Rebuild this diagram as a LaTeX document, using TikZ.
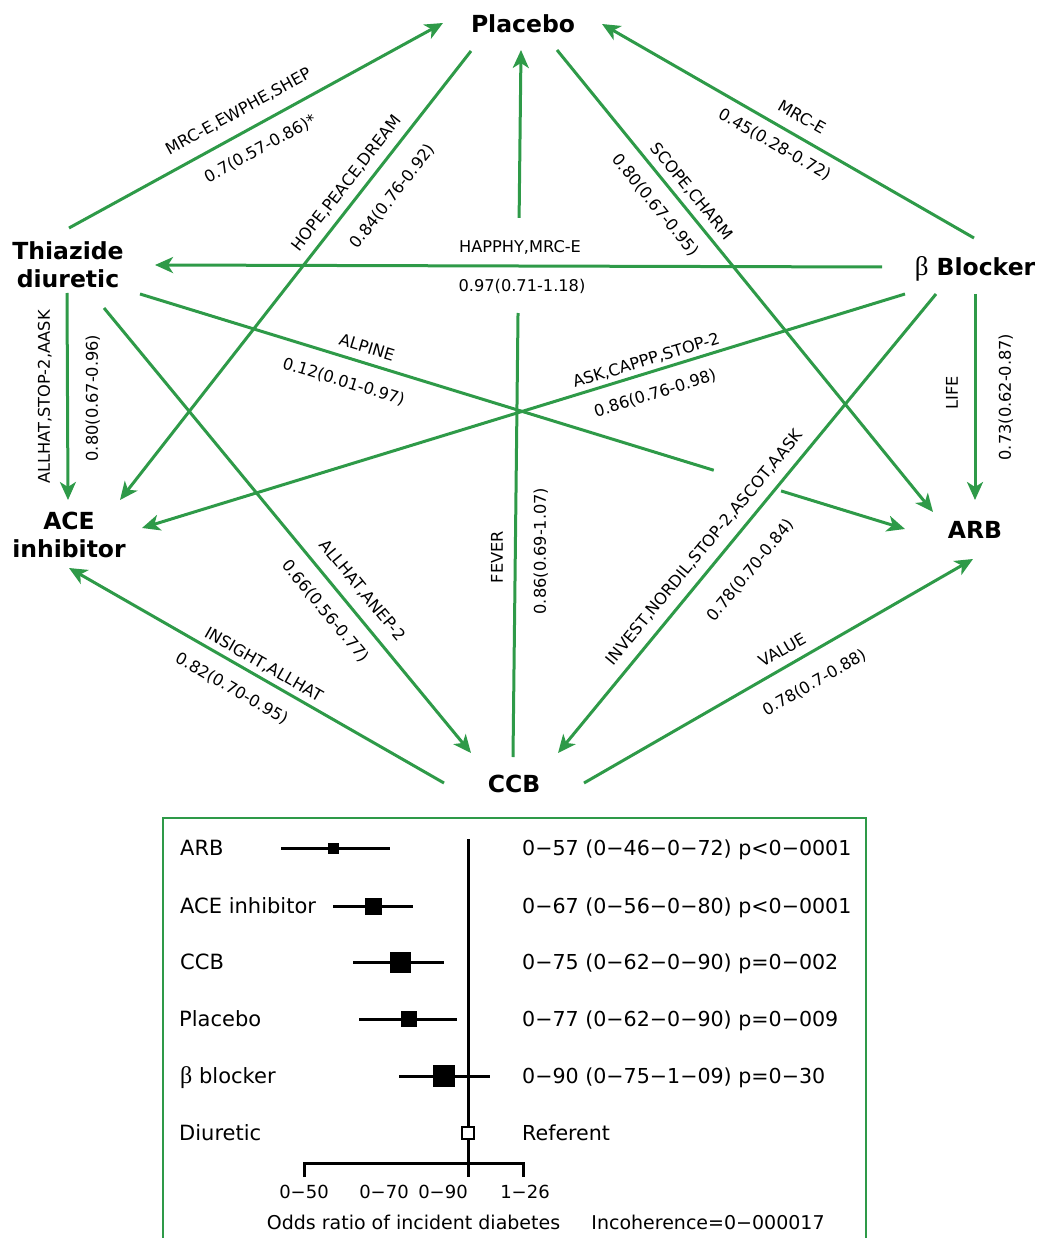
\documentclass[tikz,border=0pt]{standalone}
\usepackage{fontspec}
\setmainfont{DejaVu Sans}
\newfontfamily\grk{Liberation Serif}
\usetikzlibrary{arrows.meta,calc}
\definecolor{netgreen}{RGB}{46,154,72}

\begin{document}
\begin{tikzpicture}[x=1pt,y=-1pt,
  trt/.style={font=\fontsize{23.5}{28}\selectfont\bfseries, inner sep=0pt, align=center},
  trt1/.style={trt, text height=17pt, text depth=0pt},
  lab/.style={font=\fontsize{16.2}{19}\selectfont, inner sep=0pt, text height=11.8pt, text depth=0pt},
  seg/.style={draw=netgreen, line width=3pt},
  link/.style={seg, -{Stealth[length=18pt,width=16pt,inset=5pt]}},
  fp/.style={draw=black, line width=3pt},
  row/.style={font=\fontsize{21}{25}\selectfont, inner sep=0pt, anchor=west, text height=15.3pt, text depth=0pt},
  val/.style={row, font=\fontsize{20.6}{25}\selectfont},
  ax/.style={font=\fontsize{19}{23}\selectfont, inner sep=0pt, text height=13.9pt, text depth=0pt},
  tick/.style={ax, font=\fontsize{18}{22}\selectfont, text height=13.1pt},
  sq/.style={fill=black, inner sep=0pt, draw=none}
]
\useasboundingbox (0,0) rectangle (1039,1238);

% ---------- treatment nodes ----------
\node[trt1] (plc) at (523,24) {Placebo};
\node[trt]  (thz) at (68,265) {Thiazide\\diuretic};
\node[trt1] (bb)  at (975,267) {{\grk\mdseries\fontsize{27}{28}\selectfont β} Blocker};
\node[trt]  (ace) at (69,535) {ACE\\inhibitor};
\node[trt1] (arb) at (975,530) {ARB};
\node[trt1] (ccb) at (514,784) {CCB};

% ---------- comparisons ----------
\draw[link] ($(thz)+(1,-37)$) -- ($(plc)+(-80,-1)$);
\draw[link] ($(plc)+(-52,27)$) -- ($(ace)+(51,-35)$);
\coordinate (c3s) at ($(ccb)+(-1,-27)$);
\coordinate (c3e) at ($(plc)+(-2,26)$);
\draw[seg]  (c3s) -- ($(c3s)!0.628!(c3e)$);
\draw[link] ($(c3s)!0.7624!(c3e)$) -- (c3e);
\draw[link] ($(bb)+(-93,0)$) -- ($(thz)+(87,0)$);
\draw[link] ($(plc)+(34,26)$) -- ($(arb)+(-42,-18)$);
\draw[link] ($(bb)+(-1,-29)$) -- ($(plc)+(79,0)$);
\draw[link] ($(thz)+(-1,28)$) -- ($(ace)+(-1,-35)$);
\coordinate (t8s) at ($(thz)+(72,29)$);
\coordinate (t8e) at ($(arb)+(-70,-1)$);
\draw[seg]  (t8s) -- ($(t8s)!0.75!(t8e)$);
\draw[link] ($(t8s)!0.838!(t8e)$) -- (t8e);
\draw[link] ($(bb)+(-70,27)$) -- ($(ace)+(73,-7)$);
\draw[link] ($(bb)+(0,27)$) -- ($(arb)+(0,-30)$);
\draw[link] ($(bb)+(-39,27)$) -- ($(ccb)+(44,-31)$);
\draw[link] ($(thz)+(36,43)$) -- ($(ccb)+(-43,-31)$);
\draw[link] ($(ccb)+(-70,-1)$) -- ($(ace)+(0,33)$);
\draw[link] ($(ccb)+(70,-1)$) -- ($(arb)+(-2,29)$);

% ---------- trial names and odds ratios ----------
\node[lab,rotate=28.7]  (l1a) at (238,111) {MRC-E,EWPHE,SHEP};
\node[lab,rotate=28.7]  (l1b) at (260,148) {0.7(0.57-0.86)*};
\node[lab,rotate=52]    (l2a) at (346,183) {HOPE,PEACE,DREAM};
\node[lab,rotate=52]    (l2b) at (392,196) {0.84(0.76-0.92)};
\node[lab,rotate=90]    (l3a) at (497,557) {FEVER};
\node[lab,rotate=90]    (l3b) at (540,551) {0.86(0.69-1.07)};
\node[lab]              (l4a) at (520,247) {HAPPHY,MRC-E};
\node[lab]              (l4b) at (522,286) {0.97(0.71-1.18)};
\node[lab,rotate=-50.9] (l5a) at (692,191) {SCOPE,CHARM};
\node[lab,rotate=-50.9] (l5b) at (656,205) {0.80(0.67-0.95)};
\node[lab,rotate=-29.9] (l6a) at (802,117) {MRC-E};
\node[lab,rotate=-29.9] (l6b) at (775,144) {0.45(0.28-0.72)};
\node[lab,rotate=90]    (l7a) at (44,397) {ALLHAT,STOP-2,AASK};
\node[lab,rotate=90]    (l7b) at (92,398) {0.80(0.67-0.96)};
\node[lab,rotate=-17.1] (l8a) at (367,347) {ALPINE};
\node[lab,rotate=-17.1] (l8b) at (344,381) {0.12(0.01-0.97)};
\node[lab,rotate=17.05] (l9a) at (646,360) {ASK,CAPPP,STOP-2};
\node[lab,rotate=17.05] (l9b) at (655,393) {0.86(0.76-0.98)};
\node[lab,rotate=90]    (l10a) at (952,393) {LIFE};
\node[lab,rotate=90]    (l10b) at (1005,397) {0.73(0.62-0.87)};
\node[lab,rotate=50.5]  (l11a) at (704,547) {INVEST,NORDIL,STOP-2,ASCOT,AASK};
\node[lab,rotate=50.5]  (l11b) at (750,570) {0.78(0.70-0.84)};
\node[lab,rotate=-50.5] (l12a) at (363,590) {ALLHAT,ANEP-2};
\node[lab,rotate=-50.5] (l12b) at (326,611) {0.66(0.56-0.77)};
\node[lab,rotate=-29.8] (l13a) at (264,664) {INSIGHT,ALLHAT};
\node[lab,rotate=-29.8] (l13b) at (232,688) {0.82(0.70-0.95)};
\node[lab,rotate=29.9]  (l14a) at (782,650) {VALUE};
\node[lab,rotate=29.9]  (l14b) at (814,682) {0.78(0.7-0.88)};

% ---------- forest plot panel ----------
\draw[netgreen, line width=2.4pt] (163,1240) -- (163,818) -- (866,818) -- (866,1240);

% reference line and axis
\draw[fp] (468,839) -- (468,1177);
\draw[fp] (304,1177) -- (304,1163) -- (523,1163) -- (523,1177);
\node[tick] (t050) at (304,1192) {0−50};
\node[tick] (t070) at (384,1192) {0−70};
\node[tick] (t090) at (443,1192) {0−90};
\node[tick] (t126) at (525,1192) {1−26};
\node[ax] (xtitle) at (413.5,1223) {Odds ratio of incident diabetes};
\node[ax] (incoh) at (708,1223) {Incoherence=0−000017};

% rows
\node[row] (r1) at (180,848) {ARB};
\draw[fp] (281,848) -- (390,848);
\node[sq, minimum size=11pt] (s1) at (333,848) {};
\node[val] (v1) at (522,848) {0−57 (0−46−0−72) p<0−0001};

\node[row] (r2) at (180,906) {ACE inhibitor};
\draw[fp] (333,906) -- (413,906);
\node[sq, minimum size=17pt] (s2) at (373,906) {};
\node[val] (v2) at (522,906) {0−67 (0−56−0−80) p<0−0001};

\node[row] (r3) at (180,962) {CCB};
\draw[fp] (353,962) -- (444,962);
\node[sq, minimum size=21pt] (s3) at (400,962) {};
\node[val] (v3) at (522,962) {0−75 (0−62−0−90) p=0−002};

\node[row] (r4) at (179,1019) {Placebo};
\draw[fp] (359,1019) -- (457,1019);
\node[sq, minimum size=16pt] (s4) at (409,1019) {};
\node[val] (v4) at (522,1019) {0−77 (0−62−0−90) p=0−009};

\node[row] (r5) at (180,1076) {{\grk\fontsize{24}{25}\selectfont β} blocker};
\draw[fp] (399,1076) -- (490,1076);
\node[sq, minimum size=22pt] (s5) at (444,1076) {};
\node[val] (v5) at (522,1076) {0−90 (0−75−1−09) p=0−30};

\node[row] (r6) at (179,1133) {Diuretic};
\node[draw=black, fill=white, line width=2.4pt, inner sep=0pt, minimum size=12pt] (s6) at (468,1133) {};
\node[val] (v6) at (522,1133) {Referent};
\end{tikzpicture}
\end{document}
